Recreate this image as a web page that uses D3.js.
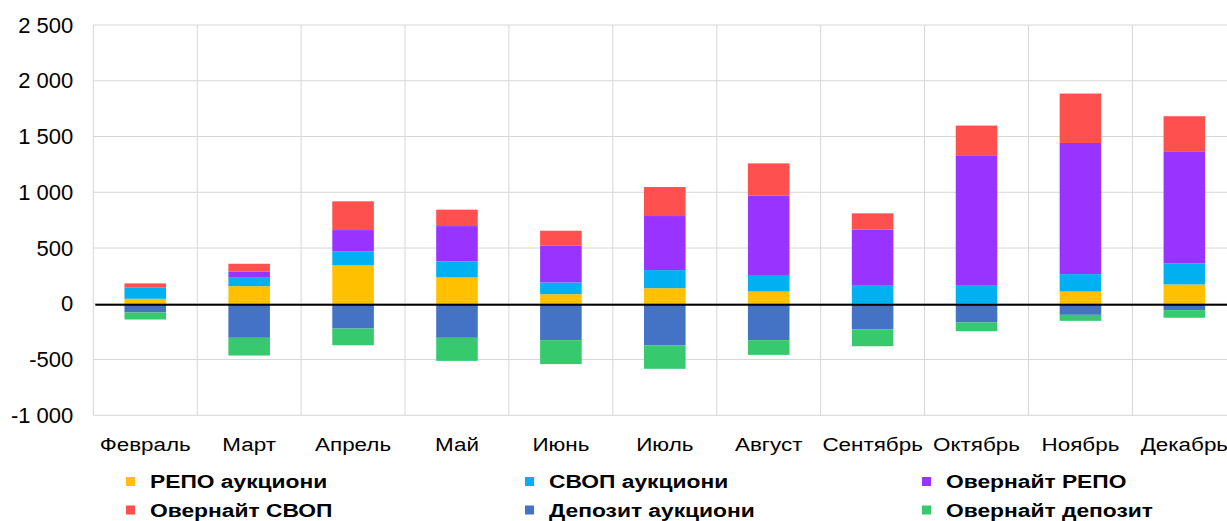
<!DOCTYPE html>
<html><head><meta charset="utf-8">
<script src="https://cdn.jsdelivr.net/npm/d3@7"></script>
<style>body{margin:0;background:#fff}svg{display:block}text{font-family:"Liberation Sans",Arial,sans-serif}</style>
</head><body><svg id="c" width="1227" height="521"></svg>
<script>
const months = ["Февраль","Март","Апрель","Май","Июнь","Июль","Август","Сентябрь","Октябрь","Ноябрь","Декабрь"];
const seriesNames = ["РЕПО аукциони","СВОП аукциони","Овернайт РЕПО","Овернайт СВОП","Депозит аукциони","Овернайт депозит"];
const repoAuction   = [45, 158, 344, 236, 86, 140, 110, 0, 0, 110, 173];
const swapAuction   = [99, 81, 126, 144, 105, 162, 141, 162, 162, 156, 189];
const overnightRepo = [0, 48, 191, 317, 329, 485, 721, 505, 1164, 1176, 1006];
const overnightSwap = [39, 72, 258, 147, 135, 260, 287, 144, 272, 443, 314];
const depositAuction   = [-78, -305, -222, -305, -326, -374, -326, -228, -168, -99, -57];
const overnightDeposit = [-63, -159, -150, -207, -215, -209, -132, -153, -78, -54, -68];
const yTicks = [-1000, -500, 0, 500, 1000, 1500, 2000, 2500];
const colors = ["#FFC000","#00B0F0","#9933FF","#FF5050","#4472C4","#36C96E"];

const seriesArrays = [repoAuction, swapAuction, overnightRepo, overnightSwap, depositAuction, overnightDeposit];
const rows = months.map((m,i)=>{const r={month:m}; seriesNames.forEach((k,j)=>r[k]=seriesArrays[j][i]); return r;});

const svg = d3.select("#c");
const pL = 93.3, pR = 1236.3, pT = 25, pB = 415.3;
const x = d3.scaleBand().domain(months).range([pL,pR]).paddingInner(0.6).paddingOuter(0.3);
const y = d3.scaleLinear().domain([-1000,2500]).range([pB,pT]);
const fmt = v => d3.format(",")(v).replace(/,/g," ").replace("−","-");

// gridlines
const g = svg.append("g");
g.selectAll("line.h").data(yTicks).join("line")
  .attr("x1",pL).attr("x2",pR).attr("y1",d=>y(d)).attr("y2",d=>y(d))
  .attr("stroke","#d6d6d6").attr("stroke-width",1);
g.selectAll("line.v").data(d3.range(months.length+1)).join("line")
  .attr("x1",d=>pL+d*x.step()).attr("x2",d=>pL+d*x.step())
  .attr("y1",pT).attr("y2",pB).attr("stroke","#d6d6d6").attr("stroke-width",1);

// y axis labels
const yAxis = d3.axisLeft(y).tickValues(yTicks).tickFormat(fmt).tickSize(0).tickPadding(20);
svg.append("g").attr("transform",`translate(${pL},0)`).call(yAxis)
  .call(s=>s.select(".domain").remove())
  .selectAll("text").attr("font-size",22).attr("fill","#000").attr("font-family","Liberation Sans, Arial, sans-serif");

// bars
const stack = d3.stack().keys(seriesNames).offset(d3.stackOffsetDiverging);
const layers = stack(rows);
svg.append("g").selectAll("g").data(layers).join("g").attr("fill",(d,i)=>colors[i])
  .selectAll("rect").data(d=>d).join("rect")
  .attr("x",d=>x(d.data.month)).attr("width",x.bandwidth())
  .attr("y",d=>y(Math.max(d[0],d[1]))).attr("height",d=>Math.abs(y(d[0])-y(d[1])));

// zero line
svg.append("line").attr("x1",pL+2).attr("x2",pR).attr("y1",y(0)+1).attr("y2",y(0)+1)
  .attr("stroke","#000").attr("stroke-width",2);

// x axis labels
const xAxis = d3.axisBottom(x).tickSize(0).tickPadding(22);
svg.append("g").attr("transform",`translate(0,${pB})`).call(xAxis)
  .call(s=>s.select(".domain").remove())
  .selectAll("text").attr("font-size",19).attr("fill","#000")
  .attr("font-family","Liberation Sans, Arial, sans-serif")
  .attr("transform","scale(1.18,1)");

// legend
const legX = [126, 525, 922], legY = [481.5, 510];
const leg = svg.append("g").selectAll("g").data(seriesNames).join("g")
  .attr("transform",(d,i)=>`translate(${legX[i%3]},${legY[Math.floor(i/3)]})`);
leg.append("rect").attr("x",0).attr("y",-4.5).attr("width",9).attr("height",9).attr("fill",(d,i)=>colors[i]);
leg.append("text").attr("x",0).attr("y",0).attr("dy","0.35em").attr("font-size",19).attr("font-weight","bold")
  .attr("transform","translate(24,0) scale(1.2,1)").text(d=>d);
</script></body></html>
